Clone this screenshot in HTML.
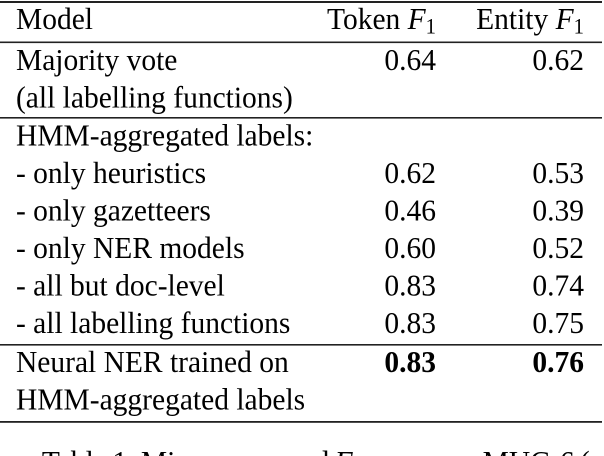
<!DOCTYPE html>
<html>
<head>
<meta charset="utf-8">
<style>
  html, body { margin: 0; padding: 0; background: #ffffff; }
  body { width: 604px; height: 456px; overflow: hidden; }
  svg { display: block; }
  text { font-family: "Liberation Serif", "Times New Roman", serif; fill: #000; }
</style>
</head>
<body>
<svg width="604" height="456" viewBox="0 0 604 456" xmlns="http://www.w3.org/2000/svg">
  <defs>
    <clipPath id="c"><rect x="0" y="0" width="604" height="456"/></clipPath>
  </defs>
  <g clip-path="url(#c)">
  <rect x="0" y="0" width="604" height="456" fill="#fff"/>
  <!-- rules -->
  <rect x="0" y="1" width="602" height="2" fill="#222"/>
  <rect x="0" y="41.5" width="602" height="1.6" fill="#222"/>
  <rect x="0" y="117" width="602" height="1.6" fill="#222"/>
  <rect x="0" y="344" width="602" height="1.6" fill="#222"/>
  <rect x="0" y="421" width="602" height="1.8" fill="#222"/>

  <g transform="scale(0.952,1)" font-size="31">
    <!-- header -->
    <text x="16.8" y="29">Model</text>
    <text x="458" y="29" text-anchor="end">Token <tspan font-style="italic">F</tspan><tspan font-size="21.7" dy="4.5">1</tspan></text>
    <text x="613.4" y="29" text-anchor="end">Entity <tspan font-style="italic">F</tspan><tspan font-size="21.7" dy="4.5">1</tspan></text>

    <!-- majority -->
    <text x="16.8" y="70">Majority vote</text>
    <text x="458" y="70" text-anchor="end">0.64</text>
    <text x="613.4" y="70" text-anchor="end">0.62</text>
    <text x="16.8" y="107.5">(all labelling functions)</text>

    <!-- HMM block -->
    <text x="16.8" y="145.5">HMM-aggregated labels:</text>

    <text x="16.8" y="183">- only heuristics</text>
    <text x="458" y="183" text-anchor="end">0.62</text>
    <text x="613.4" y="183" text-anchor="end">0.53</text>

    <text x="16.8" y="220.5">- only gazetteers</text>
    <text x="458" y="220.5" text-anchor="end">0.46</text>
    <text x="613.4" y="220.5" text-anchor="end">0.39</text>

    <text x="16.8" y="258">- only NER models</text>
    <text x="458" y="258" text-anchor="end">0.60</text>
    <text x="613.4" y="258" text-anchor="end">0.52</text>

    <text x="16.8" y="295.5">- all but doc-level</text>
    <text x="458" y="295.5" text-anchor="end">0.83</text>
    <text x="613.4" y="295.5" text-anchor="end">0.74</text>

    <text x="16.8" y="333">- all labelling functions</text>
    <text x="458" y="333" text-anchor="end">0.83</text>
    <text x="613.4" y="333" text-anchor="end">0.75</text>

    <!-- neural -->
    <text x="16.8" y="372">Neural NER trained on</text>
    <text x="458" y="372" text-anchor="end" font-weight="bold">0.83</text>
    <text x="613.4" y="372" text-anchor="end" font-weight="bold">0.76</text>
    <text x="16.8" y="409.5">HMM-aggregated labels</text>

    <!-- caption (partially visible) -->
    <text x="44" y="472" word-spacing="-2">Table 1: Micro-averaged <tspan font-style="italic">F</tspan><tspan font-size="21.7" dy="4.5">1</tspan><tspan dy="-4.5"> scores on MUC-6 (</tspan></text>
  </g>
  </g>
</svg>
</body>
</html>
